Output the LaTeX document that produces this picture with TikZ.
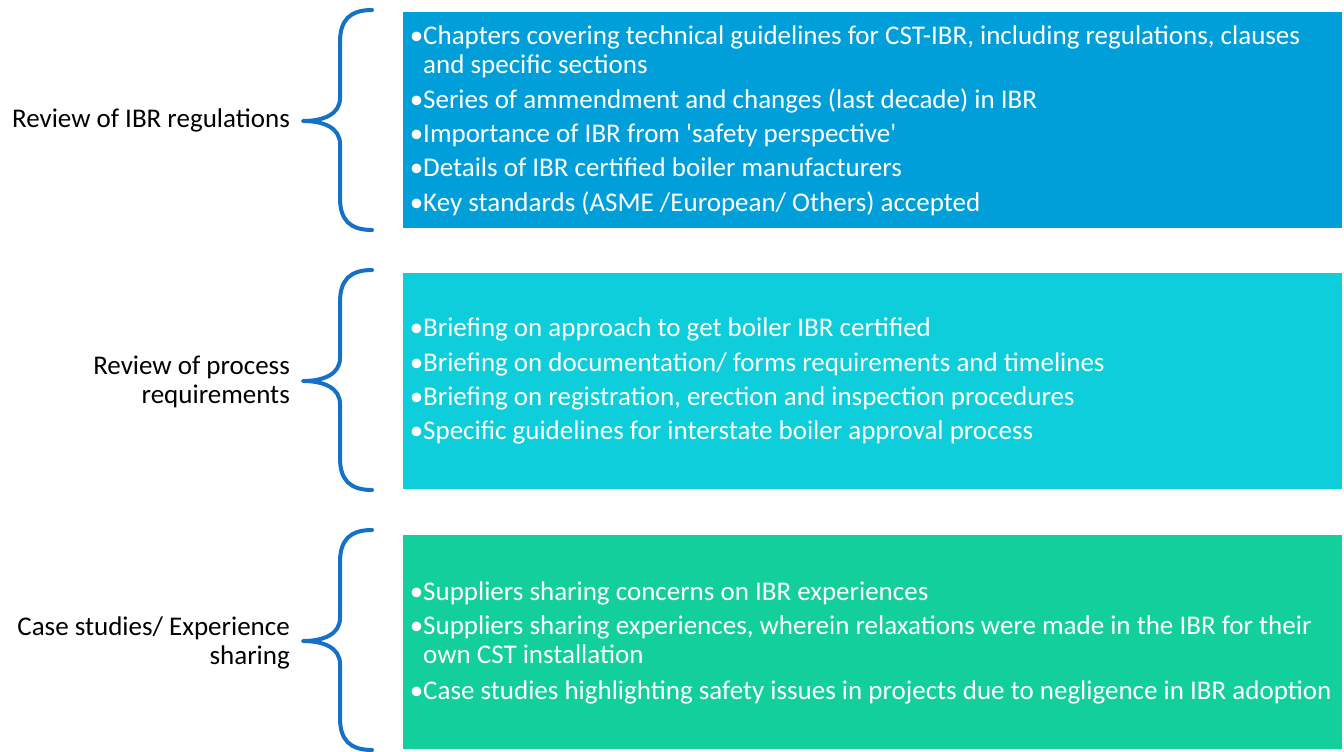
\documentclass[tikz,border=0pt]{standalone}
\usepackage{fontspec}
\setmainfont{Carlito}[Ligatures=TeXOff]
\definecolor{boxA}{HTML}{009FDA}
\definecolor{boxB}{HTML}{0DCEDA}
\definecolor{boxC}{HTML}{13CF9B}
\definecolor{bracecol}{HTML}{1570C8}
\newcommand{\bul}{\leavevmode\llap{•}}
\begin{document}
\begin{tikzpicture}[x=1pt,y=-1pt,
  panel/.style={inner sep=0pt},
  item/.style={anchor=base west,inner sep=0pt,text=white,font=\fontsize{27}{29}\selectfont},
  label/.style={anchor=base east,inner sep=0pt,text=black,font=\fontsize{27}{29}\selectfont},
  brace/.style={draw=bracecol,line width=4pt,line cap=round,line join=round}]
\useasboundingbox (0,0) rectangle (1344,752);
\fill[white] (0,0) rectangle (1344,752);

% coloured panels
\fill[boxA] (403,12) rectangle (1342,228);
\fill[boxB] (403,273) rectangle (1342,489);
\fill[boxC] (403,535) rectangle (1342,749);
\node[panel] (pA) at (872,120) {};
\node[panel] (pB) at (872,381) {};
\node[panel] (pC) at (872,642) {};

% curly braces
\foreach \t in {10,270,530}{
  \draw[brace] (372,\t) .. controls (350,\t) and (340,\t+10) .. (340,\t+32)
    -- (340,\t+88) .. controls (340,\t+104) and (324,\t+111) .. (303,\t+111)
    .. controls (324,\t+111) and (340,\t+118) .. (340,\t+134)
    -- (340,\t+188) .. controls (340,\t+210) and (350,\t+220) .. (372,\t+220);
}

% left-hand labels
\node[label] (lA) at (290,127) {\parbox[t]{300pt}{\raggedleft Review of IBR regulations}};
\node[label] (lB) at (290,374) {\parbox[t]{300pt}{\raggedleft Review of process\\requirements}};
\node[label] (lC) at (290,635) {\parbox[t]{300pt}{\raggedleft Case studies/ Experience\\sharing}};

% first panel
\node[item] (a1) at (423,45) {\parbox[t]{915pt}{\bul Chapters covering technical guidelines for CST-IBR, including regulations, clauses\\and specific sections}};
\node[item] (a2) at (423,108) {\bul Series of ammendment and changes (last decade) in IBR};
\node[item] (a3) at (423,142) {\bul Importance of IBR from 'safety perspective'};
\node[item] (a4) at (423,176) {\bul Details of IBR certified boiler manufacturers};
\node[item] (a5) at (423,211) {\bul Key standards (ASME /European/ Others) accepted};

% second panel
\node[item] (b1) at (423,336) {\bul Briefing on approach to get boiler IBR certified};
\node[item] (b2) at (423,371) {\bul Briefing on documentation/ forms requirements and timelines};
\node[item] (b3) at (423,405) {\bul Briefing on registration, erection and inspection procedures};
\node[item] (b4) at (423,439) {\bul Specific guidelines for interstate boiler approval process};

% third panel
\node[item] (c1) at (423,600) {\bul Suppliers sharing concerns on IBR experiences};
\node[item] (c2) at (423,634) {\parbox[t]{915pt}{\bul Suppliers sharing experiences, wherein relaxations were made in the IBR for their\\own CST installation}};
\node[item] (c3) at (423,699) {\bul Case studies highlighting safety issues in projects due to negligence in IBR adoption};
\end{tikzpicture}
\end{document}
